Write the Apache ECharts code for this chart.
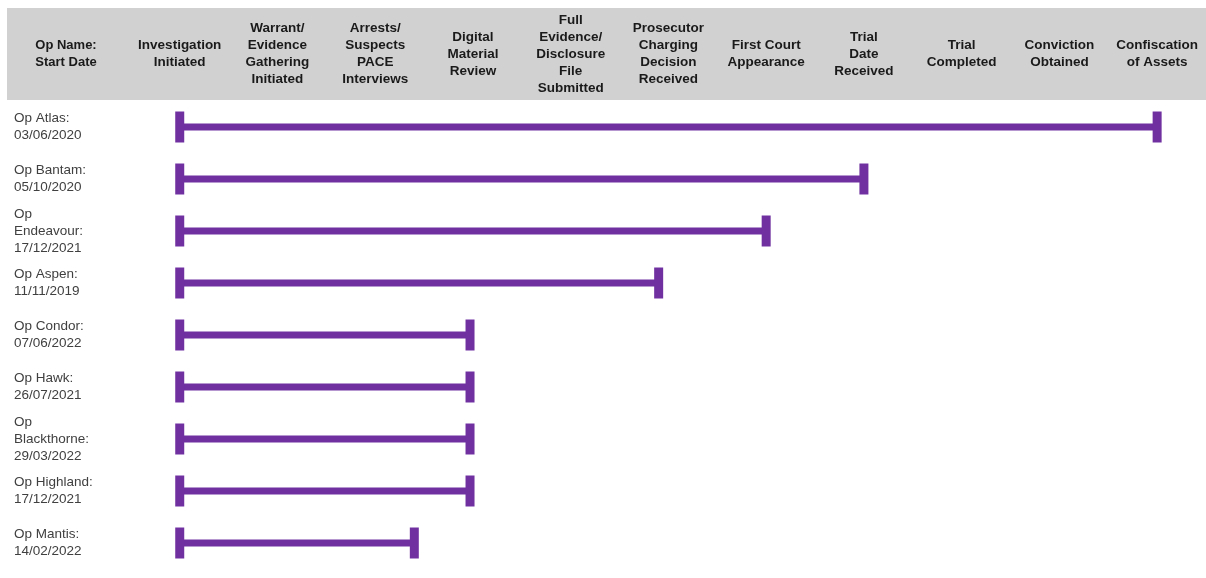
<!DOCTYPE html>
<html>
<head>
<meta charset="utf-8">
<script src="https://cdn.jsdelivr.net/npm/echarts@6/dist/echarts.min.js"></script>
<style>
html,body{margin:0;padding:0;background:#fff;}
#chart{width:1206px;height:578px;}
</style>
</head>
<body>
<div id="chart"></div>
<script>
// Stage headers (x positions 1..11)
const stages = [
  'Investigation\nInitiated',
  'Warrant/\nEvidence\nGathering\nInitiated',
  'Arrests/\nSuspects\nPACE\nInterviews',
  'Digital\nMaterial\nReview',
  'Full\nEvidence/\nDisclosure\nFile\nSubmitted',
  'Prosecutor\nCharging\nDecision\nReceived',
  'First Court\nAppearance',
  'Trial\nDate\nReceived',
  'Trial\nCompleted',
  'Conviction\nObtained',
  'Confiscation\nof Assets'
];
const firstHeader = 'Op Name:\nStart Date';
// Operations (rows)
const operations = [
  'Op Atlas:\n03/06/2020',
  'Op Bantam:\n05/10/2020',
  'Op\nEndeavour:\n17/12/2021',
  'Op Aspen:\n11/11/2019',
  'Op Condor:\n07/06/2022',
  'Op Hawk:\n26/07/2021',
  'Op\nBlackthorne:\n29/03/2022',
  'Op Highland:\n17/12/2021',
  'Op Mantis:\n14/02/2022'
];
// Stage reached: start stage and end stage (1 = Investigation Initiated)
const startStage = [1, 1, 1, 1, 1, 1, 1, 1, 1];
const endStage   = [11, 8, 7, 5.9, 3.97, 3.97, 3.97, 3.97, 3.4];

const PURPLE = '#7030a0';
const FONT = '"Liberation Sans", Arial, sans-serif';
const chart = echarts.init(document.getElementById('chart'));

const data = operations.map((op, i) => [i, startStage[i], endStage[i]]);

function renderItem(params, api) {
  const cat = api.value(0);
  const p0 = api.coord([api.value(1), cat]);
  const p1 = api.coord([api.value(2), cat]);
  const lw = 7, capW = 9, capH = 31;
  return {
    type: 'group',
    children: [
      {type: 'rect', shape: {x: p0[0], y: p0[1] - lw / 2, width: p1[0] - p0[0], height: lw}, style: {fill: PURPLE}},
      {type: 'rect', shape: {x: p0[0] - capW / 2, y: p0[1] - capH / 2, width: capW, height: capH}, style: {fill: PURPLE}},
      {type: 'rect', shape: {x: p1[0] - capW / 2, y: p1[1] - capH / 2, width: capW, height: capH}, style: {fill: PURPLE}}
    ]
  };
}

chart.setOption({
  animation: false,
  backgroundColor: '#ffffff',
  graphic: [
    {type: 'rect', z: -10, left: 7, top: 8, shape: {width: 1199, height: 92}, style: {fill: '#d2d1d2'}},
    {type: 'text', z: 10, x: 66, y: 54, style: {text: firstHeader, fill: '#1a1a1a', font: 'bold 13px ' + FONT, align: 'center', verticalAlign: 'middle', lineHeight: 17}}
  ],
  grid: {left: 82, right: 0, top: 101, bottom: 9},
  xAxis: {
    type: 'value',
    position: 'top',
    min: 0,
    max: 11.5,
    axisLine: {show: false},
    axisTick: {show: false},
    splitLine: {show: false},
    axisLabel: {
      customValues: [1, 2, 3, 4, 5, 6, 7, 8, 9, 10, 11],
      formatter: v => stages[Math.round(v) - 1] || '',
      margin: 47,
      verticalAlign: 'middle',
      color: '#1a1a1a',
      fontWeight: 'bold',
      fontSize: 13.5,
      lineHeight: 17,
      fontFamily: FONT
    }
  },
  yAxis: {
    type: 'category',
    inverse: true,
    data: operations,
    axisLine: {show: false},
    axisTick: {show: false},
    splitLine: {show: false},
    axisLabel: {
      align: 'left',
      margin: 68,
      color: '#404040',
      fontSize: 13.5,
      lineHeight: 17,
      fontFamily: FONT
    }
  },
  series: [{
    type: 'custom',
    renderItem: renderItem,
    encode: {x: [1, 2], y: 0},
    data: data
  }]
});
</script>
</body>
</html>
